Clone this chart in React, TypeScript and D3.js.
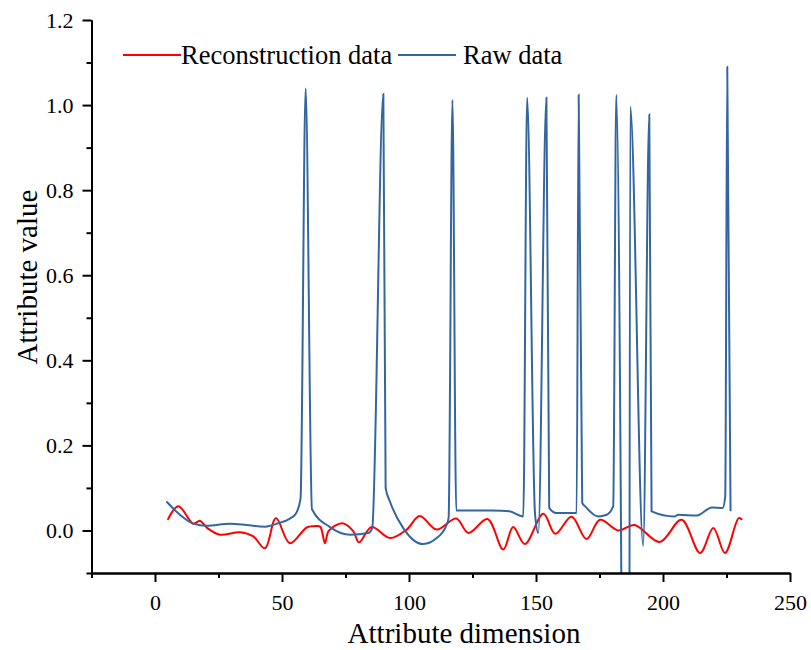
import React, { useEffect, useRef } from 'react';
import * as d3 from 'd3';

// Reconstruction data (red)
const reconX = [5, 9.2, 15.1, 17.7, 20.5, 25.6, 33.5, 38.7, 43.3, 47.6, 53.1, 59.7, 62.5, 65, 66.9, 68.4, 73.8, 78.1, 80.3, 85.3, 92.5, 99.1, 104.2, 110.9, 118.6, 123.4, 130.9, 137.1, 141, 145.6, 152.9, 157.6, 164, 169.9, 175.2, 182.5, 188.8, 198.7, 207.3, 214.6, 219.8, 224.4, 229.8, 231.2];
const reconY = [0.025, 0.057, 0.016, 0.023, 0.006, -0.01, -0.004, -0.014, -0.042, 0.029, -0.03, 0.007, 0.01, 0.009, -0.03, -0.001, 0.017, -0.002, -0.028, 0.008, -0.018, 0.002, 0.034, 0.002, 0.028, -0.006, 0.027, -0.045, 0.008, -0.032, 0.039, -0.008, 0.032, -0.02, 0.025, 0.0, 0.013, -0.027, 0.025, -0.053, 0.006, -0.053, 0.029, 0.025];

// Raw data (blue)
const rawX = [4.5, 9.8, 15.1, 20.3, 29.5, 36.1, 43.3, 48.5, 53.1, 55.5, 57.3, 59.3, 61.8, 68.9, 76.8, 84, 85.5, 89.9, 90.8, 92.5, 97.8, 105.6, 110.9, 114.8, 115.6, 117.1, 118.6, 126, 133, 139.5, 145, 146.5, 149.6, 150.9, 154.1, 155.2, 158.1, 166, 166.8, 168.2, 169.3, 174.5, 177.8, 180.4, 181.6, 186.4, 187.1, 192.2, 194.6, 195.5, 204.7, 206, 213.3, 219.2, 223.5, 224.5, 225.3, 226.6];
const rawY = [0.068, 0.037, 0.016, 0.011, 0.016, 0.013, 0.009, 0.017, 0.028, 0.04, 0.075, 1.039, 0.05, 0.008, -0.01, -0.006, 0.005, 1.026, 0.1, 0.068, 0.005, -0.032, -0.018, 0.013, 0.03, 1.012, 0.047, 0.047, 0.047, 0.045, 0.033, 1.017, 0.04, -0.006, 1.017, 0.053, 0.041, 0.041, 1.024, 0.065, 0.057, 0.033, 0.037, 0.057, 1.024, -2.0, 0.996, -0.036, 0.978, 0.045, 0.033, 0.037, 0.035, 0.054, 0.053, 0.08, 1.09, 0.045];

const xMajor = [0, 50, 100, 150, 200, 250];
const xMinor = [-25, 25, 75, 125, 175, 225];
const yMajor = [0, 0.2, 0.4, 0.6, 0.8, 1.0, 1.2];
const yMinor = [-0.1, 0.1, 0.3, 0.5, 0.7, 0.9, 1.1];

const seriesNames = ['Reconstruction data', 'Raw data'];
const seriesColors = ['#ff0000', '#3366a0'];

const App = () => {
  const ref = useRef<SVGSVGElement>(null);

  useEffect(() => {
    const svg = d3.select(ref.current);
    svg.selectAll('*').remove();

    const font = '"Liberation Serif", "Times New Roman", serif';
    const x = d3.scaleLinear().domain([-25, 250]).range([91.5, 790]);
    const y = d3.scaleLinear().domain([-0.1, 1.2]).range([573, 20]);

    svg.append('defs').append('clipPath').attr('id', 'plot')
      .append('rect')
      .attr('x', x(-25)).attr('y', y(1.2))
      .attr('width', x(250) - x(-25)).attr('height', y(-0.1) - y(1.2));

    const line = d3.line<[number, number]>()
      .x(d => x(d[0]))
      .y(d => y(d[1]))
      .curve(d3.curveMonotoneX);

    const recon: [number, number][] = reconX.map((v, i) => [v, reconY[i]]);
    const raw: [number, number][] = rawX.map((v, i) => [v, rawY[i]]);

    const g = svg.append('g').attr('clip-path', 'url(#plot)');
    g.append('path').datum(recon)
      .attr('d', d3.line<[number, number]>().x(d => x(d[0])).y(d => y(d[1])).curve(d3.curveCatmullRom.alpha(0.5)))
      .attr('fill', 'none').attr('stroke', seriesColors[0]).attr('stroke-width', 2);
    g.append('path').datum(raw)
      .attr('d', line)
      .attr('fill', 'none').attr('stroke', seriesColors[1]).attr('stroke-width', 2);

    // axes
    const styleAxis = (sel: any) => {
      sel.select('.domain').attr('stroke', '#000').attr('stroke-width', 2);
      sel.selectAll('.tick line').attr('stroke', '#000').attr('stroke-width', 2);
      sel.selectAll('text').attr('font-family', font).attr('font-size', 22).attr('fill', '#000');
    };

    const xAxis = svg.append('g').attr('transform', `translate(0,${y(-0.1)})`)
      .call(d3.axisBottom(x).tickValues(xMajor).tickSize(9).tickPadding(12).tickSizeOuter(0));
    styleAxis(xAxis);
    const xAxisMinor = svg.append('g').attr('transform', `translate(0,${y(-0.1)})`)
      .call(d3.axisBottom(x).tickValues(xMinor).tickSize(5).tickFormat(() => '').tickSizeOuter(0));
    styleAxis(xAxisMinor);

    const yAxis = svg.append('g').attr('transform', `translate(${x(-25)},0)`)
      .call(d3.axisLeft(y).tickValues(yMajor).tickSize(9).tickPadding(9).tickFormat(d3.format('.1f')).tickSizeOuter(0));
    styleAxis(yAxis);
    const yAxisMinor = svg.append('g').attr('transform', `translate(${x(-25)},0)`)
      .call(d3.axisLeft(y).tickValues(yMinor).tickSize(5).tickFormat(() => '').tickSizeOuter(0));
    styleAxis(yAxisMinor);

    // axis titles
    svg.append('text')
      .attr('x', 464).attr('y', 643)
      .attr('text-anchor', 'middle')
      .attr('font-family', font).attr('font-size', 29)
      .text('Attribute dimension');
    svg.append('text')
      .attr('transform', `translate(37,277) rotate(-90)`)
      .attr('text-anchor', 'middle')
      .attr('font-family', font).attr('font-size', 29)
      .text('Attribute value');

    // legend
    const legend = svg.append('g').attr('font-family', font).attr('font-size', 26.5);
    const legendX = [123, 398];
    seriesNames.forEach((name, i) => {
      legend.append('line')
        .attr('x1', legendX[i]).attr('x2', legendX[i] + 58)
        .attr('y1', 55).attr('y2', 55)
        .attr('stroke', seriesColors[i]).attr('stroke-width', 2);
      legend.append('text')
        .attr('x', legendX[i] + 58 + (i === 0 ? 0 : 7)).attr('y', 64)
        .text(name);
    });
  }, []);

  return (
    <svg ref={ref} width={811} height={650}
      style={{ position: 'absolute', left: 0, top: 0, background: '#fff' }} />
  );
};

export default App;
